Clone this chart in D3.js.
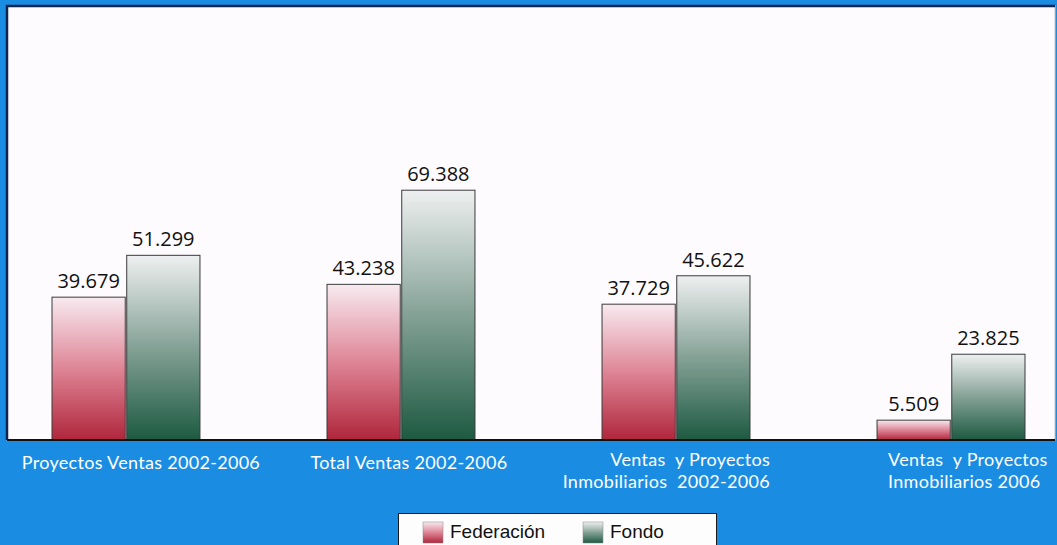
<!DOCTYPE html>
<html><head><meta charset="utf-8">
<script src="https://cdn.jsdelivr.net/npm/d3@7"></script>
<style>html,body{margin:0;padding:0;background:#1a8de0;}svg{display:block;}</style>
</head><body>
<script>
const categories = [
  ["Proyectos Ventas 2002-2006"],
  ["Total Ventas 2002-2006"],
  ["Ventas  y Proyectos", "Inmobiliarios  2002-2006"],
  ["Ventas  y Proyectos", "Inmobiliarios 2006"]
];
const seriesNames = ["Federación", "Fondo"];
const federacion = [39679, 43238, 37729, 5509];
const fondo = [51299, 69388, 45622, 23825];
const yDomain = [0, 120000];

const W = 1057, H = 545;
const plot = {x0: 7, y0: 6, x1: 1055, y1: 440};
const svg = d3.select("body").append("svg").attr("width", W).attr("height", H);

const defs = svg.append("defs");
const gradSpec = [
  {id: "gFed", top: "#f8eaf0", mid: "#de8596", bot: "#b0263b"},
  {id: "gFon", top: "#eef0f0", mid: "#84a196", bot: "#1d5a42"}
];
gradSpec.forEach(g => {
  const lg = defs.append("linearGradient").attr("id", g.id).attr("x1", 0).attr("y1", 0).attr("x2", 0).attr("y2", 1);
  lg.append("stop").attr("offset", "0%").attr("stop-color", g.top);
  lg.append("stop").attr("offset", "50%").attr("stop-color", g.mid);
  lg.append("stop").attr("offset", "100%").attr("stop-color", g.bot);
});
const fills = ["url(#gFed)", "url(#gFon)"];

// background
svg.append("rect").attr("width", W).attr("height", H).attr("fill", "#1a8de2");
svg.append("rect").attr("x", plot.x0).attr("y", plot.y0).attr("width", plot.x1 - plot.x0).attr("height", plot.y1 - plot.y0)
  .attr("fill", "#fdfbfe").attr("stroke", "#c8c8d0").attr("stroke-width", 1);
svg.append("path").attr("d", `M${plot.x0},${plot.y1} V${plot.y0} H${plot.x1}`).attr("fill", "none").attr("stroke", "#0c2550").attr("stroke-width", 2.5);

const x = d3.scaleBand().domain(d3.range(categories.length)).range([52, 1025]).paddingInner(0.462).paddingOuter(0);
const xs = d3.scaleBand().domain(seriesNames).range([0, x.bandwidth()]).paddingInner(0.02);
const y = d3.scaleLinear().domain(yDomain).range([plot.y1, plot.y0 + 2]);

const fmt = d3.formatLocale({decimal: ",", thousands: ".", grouping: [3], currency: ["", "€"]}).format(",d");

const data = [federacion, fondo];
seriesNames.forEach((s, si) => {
  const g = svg.append("g");
  g.selectAll("rect").data(data[si]).join("rect")
    .attr("x", (d, i) => x(i) + xs(s))
    .attr("y", d => y(d))
    .attr("width", xs.bandwidth())
    .attr("height", d => y(0) - y(d))
    .attr("fill", fills[si])
    .attr("stroke", "#3a3a3a").attr("stroke-width", 1);
  g.selectAll("text").data(data[si]).join("text")
    .attr("x", (d, i) => x(i) + xs(s) + xs.bandwidth() / 2)
    .attr("y", d => y(d) - 9)
    .attr("text-anchor", "middle")
    .attr("font-family", "Open Sans")
    .attr("font-size", 20)
    .attr("fill", "#111")
    .text(d => fmt(d));
});

// baseline
svg.append("line").attr("x1", plot.x0).attr("x2", plot.x1).attr("y1", y(0)).attr("y2", y(0)).attr("stroke", "#111").attr("stroke-width", 2);

// category labels
const labelAnchor = ["middle", "middle", "end", "start"];
const labelOffset = [15, 8, 94, -63];
categories.forEach((lines, i) => {
  const cx = x(i) + x.bandwidth() / 2 + labelOffset[i];
  const t = svg.append("text")
    .attr("x", cx).attr("y", lines.length > 1 ? 466 : 469)
    .attr("text-anchor", labelAnchor[i])
    .attr("font-family", "Lato").attr("font-size", 18).attr("letter-spacing", 0.3)
    .attr("fill", "#ffffff").style("white-space", "pre");
  lines.forEach((ln, k) => {
    t.append("tspan").attr("x", cx).attr("dy", k === 0 ? 0 : 21.5).text(ln);
  });
});

// legend
const lg = svg.append("g");
lg.append("rect").attr("x", 398.5).attr("y", 513.5).attr("width", 318).attr("height", 45)
  .attr("fill", "#fdfdfd").attr("stroke", "#1a1a1a").attr("stroke-width", 1);
const legX = [423, 583];
seriesNames.forEach((s, si) => {
  lg.append("rect").attr("x", legX[si]).attr("y", 522).attr("width", 20).attr("height", 21)
    .attr("fill", fills[si]).attr("stroke", "#888").attr("stroke-width", 0.5);
  lg.append("text").attr("x", legX[si] + 27).attr("y", 538)
    .attr("font-family", "Liberation Sans").attr("font-size", 19).attr("fill", "#111").text(s);
});
</script>
</body></html>
